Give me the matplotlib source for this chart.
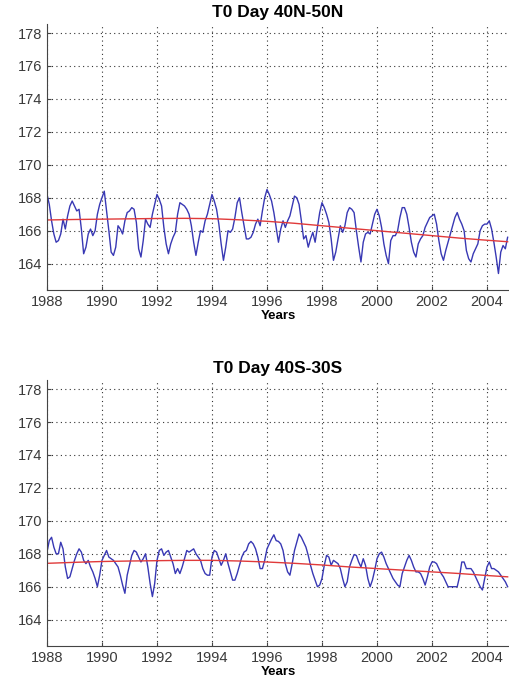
import numpy as np
import matplotlib
matplotlib.use('Agg')
import matplotlib.pyplot as plt

plt.rcParams['font.family'] = ['Liberation Sans', 'DejaVu Sans']

# monthly values, Jan 1988 .. Sep 2004
start_year = 1988
north = [
    168.2, 167.6, 166.6, 165.8, 165.3, 165.4, 165.8, 166.7, 166.1, 166.9, 167.5, 167.8,  # 1988
    167.5, 167.2, 167.3, 166.1, 164.6, 165.0, 165.8, 166.1, 165.7, 166.0, 167.0, 167.6,  # 1989
    168.0, 168.4, 167.2, 166.0, 164.7, 164.5, 165.0, 166.3, 166.1, 165.8, 166.6, 167.1,  # 1990
    167.2, 167.4, 167.3, 166.5, 164.9, 164.4, 165.4, 166.7, 166.4, 166.2, 167.0, 167.6,  # 1991
    168.2, 167.9, 167.5, 166.2, 165.2, 164.6, 165.2, 165.6, 165.9, 167.0, 167.7, 167.6,  # 1992
    167.5, 167.3, 167.0, 166.3, 165.3, 164.5, 165.3, 166.0, 165.9, 166.6, 167.0, 167.6,  # 1993
    168.2, 167.8, 167.3, 166.4, 165.2, 164.2, 165.0, 166.0, 165.9, 166.1, 166.8, 167.7,  # 1994
    168.0, 167.1, 166.3, 165.5, 165.5, 165.6, 165.9, 166.4, 166.7, 166.3, 167.2, 168.0,  # 1995
    168.5, 168.2, 167.8, 167.1, 166.2, 165.3, 166.1, 166.6, 166.2, 166.6, 166.9, 167.5,  # 1996
    168.1, 168.0, 167.6, 166.6, 165.5, 165.7, 165.0, 165.5, 165.9, 165.3, 166.2, 167.1,  # 1997
    167.7, 167.4, 167.0, 166.5, 165.5, 164.2, 164.7, 165.5, 166.3, 165.9, 166.3, 167.1,  # 1998
    167.4, 167.3, 167.1, 166.0, 165.0, 164.1, 165.3, 165.8, 165.9, 165.8, 166.4, 167.0,  # 1999
    167.3, 166.9, 166.2, 165.2, 164.5, 164.0, 165.4, 165.7, 165.7, 166.0, 166.8, 167.4,  # 2000
    167.4, 167.0, 166.2, 165.3, 164.7, 164.4, 165.2, 165.5, 165.7, 166.2, 166.5, 166.8,  # 2001
    166.9, 167.0, 166.4, 165.4, 164.6, 164.2, 164.8, 165.3, 165.8, 166.3, 166.8, 167.1,  # 2002
    166.7, 166.4, 166.0, 164.8, 164.3, 164.1, 164.6, 164.9, 165.2, 166.0, 166.3, 166.4,  # 2003
    166.4, 166.6, 166.1, 165.3, 164.4, 163.4, 164.7, 165.1, 164.9, 165.6,                # 2004
]
south = [
    168.1, 168.8, 169.0, 168.4, 168.0, 168.0, 168.7, 168.3, 167.2, 166.5, 166.6, 167.1,  # 1988
    167.6, 168.0, 168.3, 168.1, 167.6, 167.4, 167.6, 167.2, 166.9, 166.5, 166.0, 166.7,  # 1989
    167.6, 167.9, 168.2, 167.8, 167.7, 167.6, 167.4, 167.2, 166.7, 166.1, 165.6, 166.7,  # 1990
    167.3, 167.9, 168.2, 168.1, 167.8, 167.5, 167.7, 168.0, 167.2, 166.2, 165.4, 166.2,  # 1991
    167.6, 168.2, 168.3, 167.9, 168.1, 168.2, 167.8, 167.4, 166.8, 167.1, 166.8, 167.2,  # 1992
    167.7, 168.2, 168.1, 168.2, 168.3, 168.0, 167.8, 167.6, 167.1, 166.8, 166.7, 166.7,  # 1993
    167.8, 168.2, 168.1, 167.7, 167.3, 167.6, 168.0, 167.4, 166.9, 166.4, 166.4, 166.8,  # 1994
    167.3, 167.8, 168.1, 168.2, 168.6, 168.75, 168.6, 168.3, 167.8, 167.1, 167.1, 167.6, # 1995
    168.3, 168.6, 168.9, 169.15, 168.8, 168.75, 168.6, 168.2, 167.4, 166.9, 166.7, 167.4, # 1996
    168.2, 168.7, 169.2, 169.0, 168.7, 168.4, 167.9, 167.3, 166.8, 166.4, 166.0, 166.1,  # 1997
    166.5, 167.3, 167.9, 167.8, 167.3, 167.6, 167.5, 167.4, 167.1, 166.5, 166.0, 166.3,  # 1998
    167.2, 167.6, 167.95, 167.9, 167.5, 167.2, 167.7, 167.3, 166.5, 166.0, 166.4, 167.0, # 1999
    167.7, 168.0, 168.1, 167.8, 167.4, 167.1, 166.8, 166.5, 166.3, 166.1, 166.0, 166.8,  # 2000
    167.2, 167.6, 167.9, 167.6, 167.2, 166.9, 166.9, 166.8, 166.5, 166.1, 166.6, 167.2,  # 2001
    167.5, 167.5, 167.4, 167.1, 166.8, 166.6, 166.3, 166.0, 166.0, 166.0, 166.0, 166.0,  # 2002
    166.6, 167.5, 167.5, 167.1, 167.1, 167.1, 166.9, 166.6, 166.3, 166.0, 165.8, 166.5,  # 2003
    167.2, 167.5, 167.1, 167.1, 167.0, 166.9, 166.7, 166.5, 166.3, 166.0,                # 2004
]

# smooth trend, read at yearly knots
trend_years = [1988, 1989, 1990, 1991, 1992, 1993, 1994, 1995, 1996, 1997, 1998,
               1999, 2000, 2001, 2002, 2003, 2004, 2004.75]
north_trend = [166.65, 166.68, 166.70, 166.72, 166.74, 166.75, 166.73, 166.66, 166.57,
               166.45, 166.30, 166.15, 166.00, 165.85, 165.70, 165.55, 165.42, 165.33]
south_trend = [167.42, 167.48, 167.53, 167.56, 167.58, 167.60, 167.60, 167.56, 167.50,
               167.42, 167.32, 167.20, 167.10, 167.00, 166.90, 166.80, 166.68, 166.60]

titles = ['T0 Day 40N-50N', 'T0 Day 40S-30S']
yticks = [164, 166, 168, 170, 172, 174, 176, 178]
xticks = [1988, 1990, 1992, 1994, 1996, 1998, 2000, 2002, 2004]

fig = plt.figure(figsize=(5.09, 6.78), dpi=100)
ax1 = fig.add_axes([0.0923, 0.5723, 0.9077, 0.3923])
ax2 = fig.add_axes([0.0923, 0.0472, 0.9077, 0.3923])

for ax, data, trend, title in [(ax1, north, north_trend, titles[0]),
                               (ax2, south, south_trend, titles[1])]:
    t = start_year + np.arange(len(data)) / 12.0
    ax.plot(t, data, color='#3838b4', lw=1.0)
    ax.plot(trend_years, trend, color='#e03a3a', lw=1.0)
    ax.set_xlim(1988, 2004.8)
    ax.set_ylim(162.4, 178.55)
    ax.set_xticks(xticks)
    ax.set_yticks(yticks)
    ax.grid(True, color='#333333', linestyle=(0, (1, 3)), lw=0.8)
    ax.tick_params(labelsize=10.5, labelcolor='#3a3a3a', colors='#444444',
                   length=3, direction='in')
    for s in ['top', 'right']:
        ax.spines[s].set_visible(False)
    ax.spines['left'].set_color('#444444')
    ax.spines['bottom'].set_color('#444444')
    ax.set_title(title, fontsize=12.5, fontweight='bold', pad=5)
    ax.set_xlabel('Years', fontsize=9.5, fontweight='bold', labelpad=1)

fig.savefig('out.png', dpi=100)
